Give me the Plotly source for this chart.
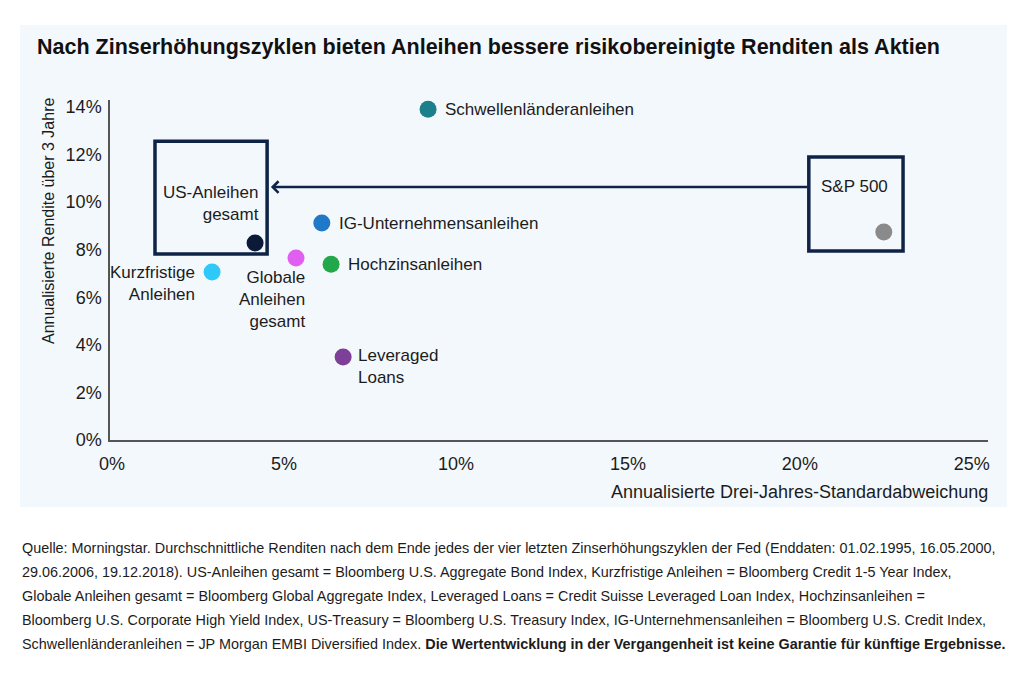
import plotly.graph_objects as go

# ---------------- data ----------------
names = ["Schwellenländeranleihen", "IG-Unternehmensanleihen", "Hochzinsanleihen",
         "Globale Anleihen gesamt", "Leveraged Loans", "US-Anleihen gesamt",
         "Kurzfristige Anleihen", "S&P 500"]
risk = [9.19, 6.10, 6.37, 5.35, 6.72, 4.16, 2.91, 22.44]      # annualised 3y std dev, %
ret = [13.9, 9.12, 7.39, 7.65, 3.49, 8.28, 7.06, 8.74]        # annualised 3y return, %
label_text = ["Schwellenländeranleihen", "IG-Unternehmensanleihen", "Hochzinsanleihen",
              "Globale<br>Anleihen<br>gesamt", "Leveraged<br>Loans", "US-Anleihen<br>gesamt",
              "Kurzfristige<br>Anleihen", "S&P 500"]
x_ticks = [0, 5, 10, 15, 20, 25]
x_tick_labels = ["0%", "5%", "10%", "15%", "20%", "25%"]
y_ticks = [0, 2, 4, 6, 8, 10, 12, 14]
y_tick_labels = ["0%", "2%", "4%", "6%", "8%", "10%", "12%", "14%"]

title = "Nach Zinserhöhungszyklen bieten Anleihen bessere risikobereinigte Renditen als Aktien"
x_title = "Annualisierte Drei-Jahres-Standardabweichung"
y_title = "Annualisierte Rendite über 3 Jahre"
footnote_lines = [
    "Quelle: Morningstar. Durchschnittliche Renditen nach dem Ende jedes der vier letzten Zinserhöhungszyklen der Fed (Enddaten: 01.02.1995, 16.05.2000,",
    "29.06.2006, 19.12.2018). US-Anleihen gesamt = Bloomberg U.S. Aggregate Bond Index, Kurzfristige Anleihen = Bloomberg Credit 1-5 Year Index,",
    "Globale Anleihen gesamt = Bloomberg Global Aggregate Index, Leveraged Loans = Credit Suisse Leveraged Loan Index, Hochzinsanleihen =",
    "Bloomberg U.S. Corporate High Yield Index, US-Treasury = Bloomberg U.S. Treasury Index, IG-Unternehmensanleihen = Bloomberg U.S. Credit Index,",
    "Schwellenländeranleihen = JP Morgan EMBI Diversified Index. <b>Die Wertentwicklung in der Vergangenheit ist keine Garantie für künftige Ergebnisse.</b>",
]

# ---------------- styles ----------------
colors = ["#1b7f8c", "#1f78c8", "#22a84a", "#e05ff0", "#7d3f98", "#0b1a38", "#2ec9f8", "#8a8a8a"]
# (xanchor, xshift, yshift, align)
label_place = [
    ("left", 15, 0, "left"),
    ("left", 15, 0, "left"),
    ("left", 15, 0, "left"),
    ("right", 11, -42, "right"),
    ("left", 13, -10, "left"),
    ("right", 6, 40, "right"),
    ("right", -15, -11, "right"),
    ("right", 6, 46, "right"),
]
W, H = 1024, 683
OX, OY = 8, 8  # page body margin offset


def px(x):
    return (x - OX) / W


def py(y):
    return 1 - (y - OY) / H


FONT = "Liberation Sans, Arial, sans-serif"
TXT = "#1c1c1c"
NAVY = "#0f2347"

fig = go.Figure()
fig.add_trace(go.Scatter(
    x=risk, y=ret, mode="markers",
    marker=dict(size=17, color=colors, line=dict(width=0)),
    hovertext=names, hoverinfo="text", showlegend=False,
))

ann = []
for xv, yv, t, (xa, xs, ys, al) in zip(risk, ret, label_text, label_place):
    ann.append(dict(x=xv, y=yv, xref="x", yref="y", text=t, showarrow=False,
                    xanchor=xa, yanchor="middle", xshift=xs, yshift=ys, align=al,
                    font=dict(family=FONT, size=17, color=TXT)))

# arrow from the S&P box to the US bond box
ann.append(dict(x=4.62, y=10.63, ax=20.26, ay=10.63, xref="x", yref="y", axref="x", ayref="y",
                text="", showarrow=True, arrowhead=4, arrowsize=0.9, arrowwidth=2.5,
                arrowcolor=NAVY, standoff=0))

# title and axis titles
ann.append(dict(x=px(35), y=py(47), xref="paper", yref="paper", text="<b>" + title + "</b>",
                showarrow=False, xanchor="left", yanchor="middle",
                font=dict(family=FONT, size=21.5, color="#111111")))
ann.append(dict(x=px(990), y=py(492), xref="paper", yref="paper", text=x_title,
                showarrow=False, xanchor="right", yanchor="middle",
                font=dict(family=FONT, size=18, color=TXT)))
ann.append(dict(x=px(48), y=py(221), xref="paper", yref="paper", text=y_title,
                showarrow=False, xanchor="center", yanchor="middle", textangle=-90,
                font=dict(family=FONT, size=16, color=TXT)))
for i, line in enumerate(footnote_lines):
    ann.append(dict(x=px(20), y=py(548 + 24 * i), xref="paper", yref="paper", text=line,
                    showarrow=False, xanchor="left", yanchor="middle",
                    font=dict(family=FONT, size=14.4, color=TXT)))

shapes = [
    dict(type="rect", xref="paper", yref="paper", x0=px(20), x1=px(1007), y0=py(507), y1=py(25),
         fillcolor="#f3f8fc", line=dict(width=0), layer="below"),
    dict(type="rect", xref="x", yref="y", x0=1.25, x1=4.51, y0=7.82, y1=12.56,
         line=dict(color=NAVY, width=3.5), fillcolor="rgba(0,0,0,0)", layer="below"),
    dict(type="rect", xref="x", yref="y", x0=20.26, x1=23.0, y0=7.94, y1=11.89,
         line=dict(color=NAVY, width=3.5), fillcolor="rgba(0,0,0,0)", layer="below"),
]

fig.update_layout(
    template="none",
    width=W, height=H, margin=dict(l=0, r=0, t=0, b=0, pad=0, autoexpand=False),
    paper_bgcolor="white", plot_bgcolor="rgba(0,0,0,0)",
    annotations=ann, shapes=shapes, showlegend=False,
    xaxis=dict(domain=[px(110), px(988)], range=[-0.058, 25.47], tickvals=x_ticks,
               ticktext=x_tick_labels, showgrid=False, zeroline=False, showline=True,
               linecolor="#555555", linewidth=1.5, ticks="", ticklabelstandoff=7,
               automargin=False, tickfont=dict(family=FONT, size=18, color=TXT), fixedrange=True),
    yaxis=dict(domain=[py(440), py(100)], range=[0, 14.29], tickvals=y_ticks,
               ticktext=y_tick_labels, showgrid=False, zeroline=False, showline=True,
               linecolor="#555555", linewidth=1.5, ticks="", ticklabelstandoff=3,
               automargin=False, tickfont=dict(family=FONT, size=18, color=TXT), fixedrange=True),
)

fig.write_html("out.html")
